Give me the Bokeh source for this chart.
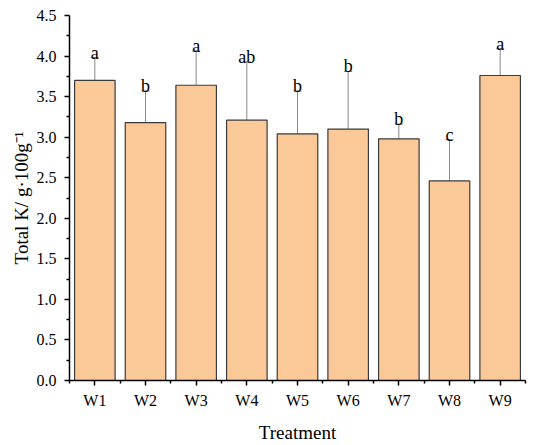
from bokeh.plotting import figure
from bokeh.models import ColumnDataSource, FixedTicker, Whisker, TeeHead, Range1d
from bokeh.core.properties import value
from bokeh.embed import file_html
from bokeh.resources import INLINE

treatments = ["W1", "W2", "W3", "W4", "W5", "W6", "W7", "W8", "W9"]
means = [3.70, 3.18, 3.64, 3.21, 3.04, 3.10, 2.98, 2.46, 3.76]
errors = [0.28, 0.39, 0.42, 0.72, 0.53, 0.71, 0.18, 0.51, 0.33]
letters = ["a", "b", "a", "ab", "b", "b", "b", "c", "a"]
y_ticks = [0.0, 0.5, 1.0, 1.5, 2.0, 2.5, 3.0, 3.5, 4.0, 4.5]

pos = list(range(1, len(treatments) + 1))
upper = [m + e for m, e in zip(means, errors)]
src = ColumnDataSource(dict(x=pos, top=means, upper=upper, lab=letters))

FONT = "Liberation Serif"

p = figure(width=534, height=445, output_backend="svg", toolbar_location=None,
           x_range=Range1d(0.5, len(treatments) + 0.5), y_range=Range1d(0, 4.5),
           min_border_left=69, min_border_right=9, min_border_top=15, min_border_bottom=63)
p.outline_line_color = None
p.xgrid.visible = False
p.ygrid.visible = False
p.background_fill_color = "white"
p.border_fill_color = "white"

p.vbar(x="x", width=0.8, top="top", bottom=0, source=src,
       fill_color="#FBC898", line_color="#3a3a3a", line_width=1.2)

w = Whisker(base="x", upper="upper", lower="top", source=src, dimension="height",
            line_color="#8a8a8a", line_width=1,
            upper_head=TeeHead(size=8, line_color="#8a8a8a", line_width=1.2),
            lower_head=None)
p.add_layout(w)

p.text(x="x", y="upper", text="lab", source=src, text_align="center",
       text_baseline="alphabetic", y_offset=-5, text_font=value(FONT),
       text_font_size="18px", text_color="black")

# axes
half = [i + 0.5 for i in range(0, len(treatments) + 1)]
p.xaxis.ticker = FixedTicker(ticks=pos, minor_ticks=half)
p.xaxis.major_label_overrides = {i: t for i, t in zip(pos, treatments)}
p.yaxis.ticker = FixedTicker(ticks=y_ticks,
                             minor_ticks=[t + 0.25 for t in y_ticks[:-1]])
p.yaxis.major_label_overrides = {t: f"{t:.1f}" for t in y_ticks}

for ax in (p.xaxis, p.yaxis):
    ax.axis_line_color = "black"
    ax.axis_line_width = 1.5
    ax.major_tick_line_color = "black"
    ax.major_tick_line_width = 1.5
    ax.minor_tick_line_color = "black"
    ax.minor_tick_line_width = 1.5
    ax.major_tick_out = 5
    ax.major_tick_in = 0
    ax.minor_tick_out = 3
    ax.minor_tick_in = 0
    ax.major_label_text_font = FONT
    ax.major_label_text_font_size = "16px"
    ax.major_label_text_color = "black"
    ax.axis_label_text_font = FONT
    ax.axis_label_text_font_size = "19px"
    ax.axis_label_text_font_style = "normal"
    ax.axis_label_text_color = "black"

p.xaxis.axis_label = "Treatment"
p.yaxis.axis_label = "Total K/ g·100g⁻¹"
p.xaxis.major_label_standoff = 6
p.yaxis.major_label_standoff = 8
p.xaxis.axis_label_standoff = 10
p.yaxis.axis_label_standoff = 2

open("out.html", "w").write(file_html(p, INLINE))
